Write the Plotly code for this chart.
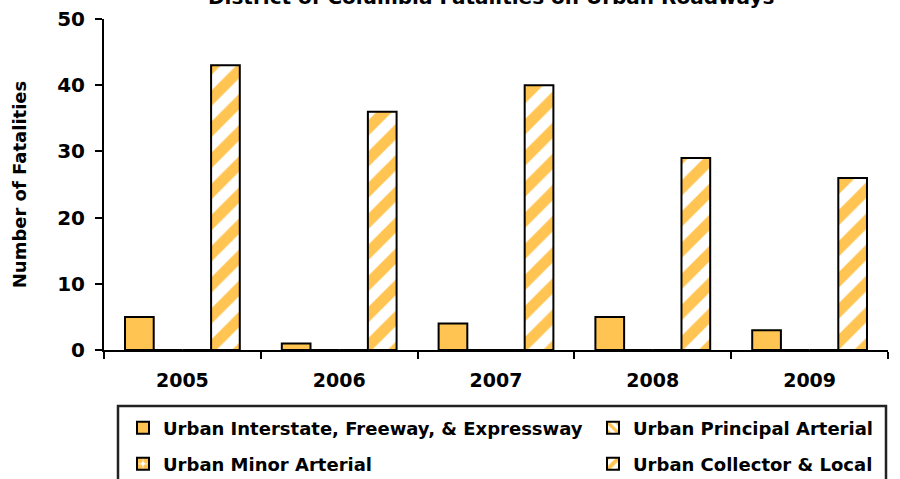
import plotly.graph_objects as go

years = ["2005", "2006", "2007", "2008", "2009"]
interstate = [5, 1, 4, 5, 3]
principal = [0, 0, 0, 0, 0]
minor = [0, 0, 0, 0, 0]
collector = [43, 36, 40, 29, 26]

series_names = [
    "Urban Interstate, Freeway, & Expressway",
    "Urban Principal Arterial",
    "Urban Minor Arterial",
    "Urban Collector & Local",
]

ORANGE = "#FFC451"
FONT = "DejaVu Sans"
LINE = dict(color="black", width=2)

fig = go.Figure()
fig.add_trace(go.Bar(x=years, y=interstate, name=series_names[0], legend="legend",
                     marker=dict(color=ORANGE, line=LINE)))
fig.add_trace(go.Bar(x=years, y=principal, name=series_names[1], legend="legend2",
                     marker=dict(color="white", line=LINE,
                                 pattern=dict(shape="\\", fgcolor=ORANGE, bgcolor="white",
                                              size=8, solidity=0.5, fillmode="replace"))))
fig.add_trace(go.Bar(x=years, y=minor, name=series_names[2], legend="legend3",
                     marker=dict(color="white", line=LINE,
                                 pattern=dict(shape=".", fgcolor=ORANGE, bgcolor="white",
                                              size=10, solidity=0.7, fillmode="replace"))))
fig.add_trace(go.Bar(x=years, y=collector, name=series_names[3], legend="legend4",
                     marker=dict(color="white", line=LINE,
                                 pattern=dict(shape="/", fgcolor=ORANGE, bgcolor="white",
                                              size=22, solidity=0.5, fillmode="replace"))))

legend_common = dict(orientation="h", xref="container", yref="container",
                     xanchor="left", yanchor="middle",
                     borderwidth=0, bgcolor="rgba(0,0,0,0)",
                     font=dict(family=FONT, size=18, color="black", weight="bold"))
col1, col2 = 123 / 900, 593 / 900
row1, row2 = 1 - 428 / 479, 1 - 464 / 479

fig.update_layout(
    width=900, height=479,
    margin=dict(l=104, r=12, t=19, b=129, autoexpand=False),
    paper_bgcolor="white", plot_bgcolor="white",
    barmode="group", bargap=0.268, bargroupgap=0,
    font=dict(family=FONT, color="black"),
    showlegend=True,
    legend=dict(legend_common, x=col1, y=row1),
    legend2=dict(legend_common, x=col2, y=row1),
    legend3=dict(legend_common, x=col1, y=row2),
    legend4=dict(legend_common, x=col2, y=row2),
    xaxis=dict(type="category", showline=True, linecolor="black", linewidth=2,
               ticks="outside", tickson="boundaries", ticklen=7, tickwidth=2, tickcolor="black",
               ticklabelstandoff=12,
               tickfont=dict(family=FONT, size=19, weight="bold"), showgrid=False, zeroline=False),
    yaxis=dict(range=[0, 50], dtick=10, showline=True, linecolor="black", linewidth=2,
               ticks="outside", ticklen=7, tickwidth=2, tickcolor="black",
               ticklabelstandoff=6, ticklabeloverflow="allow",
               tickfont=dict(family=FONT, size=20, weight="bold"), showgrid=False, zeroline=False,
               title=dict(text="Number of Fatalities", font=dict(family=FONT, size=18, weight="bold"),
                          standoff=26)),
    xaxis2=dict(overlaying="x", range=[0, 5], tickvals=[0, 1, 2, 3, 4, 5], ticks="inside",
                ticklen=7, tickwidth=2, tickcolor="black", showticklabels=False,
                showline=False, showgrid=False, zeroline=False, side="bottom"),
    yaxis2=dict(overlaying="y", range=[0, 50], dtick=10, ticks="inside",
                ticklen=7, tickwidth=2, tickcolor="black", showticklabels=False,
                showline=False, showgrid=False, zeroline=False, side="left"),
    shapes=[dict(type="rect", xref="paper", yref="paper",
                 x0=14 / 784, x1=782 / 784,
                 y0=(350 - 406) / 331, y1=(350 - 490) / 331,
                 line=dict(color="#222222", width=2.5), fillcolor="rgba(0,0,0,0)", layer="above")],
    annotations=[dict(text="District of Columbia Fatalities on Urban Roadways",
                      xref="paper", yref="paper", x=(491 - 104) / 784, y=1.066,
                      xanchor="center", yanchor="middle",
                      showarrow=False, font=dict(family=FONT, size=20, color="black", weight="bold"))],
)
fig.write_html("out.html", config={"displayModeBar": False},
               post_script="document.body.style.margin='0';")
